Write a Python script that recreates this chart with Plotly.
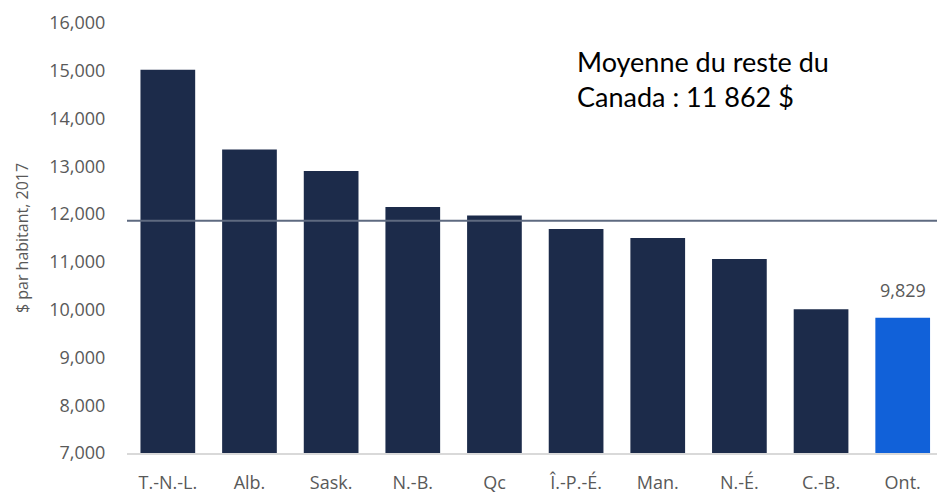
import plotly.graph_objects as go

provinces = ["T.-N.-L.", "Alb.", "Sask.", "N.-B.", "Qc", "Î.-P.-É.", "Man.", "N.-É.", "C.-B.", "Ont."]
spending = [15020, 13350, 12900, 12150, 11970, 11690, 11500, 11060, 10010, 9829]
rest_of_canada_avg = 11862
y_ticks = [7000, 8000, 9000, 10000, 11000, 12000, 13000, 14000, 15000, 16000]

colors = ["#1C2B4A"] * (len(provinces) - 1) + ["#1161D9"]

fig = go.Figure()
fig.add_trace(go.Bar(
    x=provinces, y=spending, marker=dict(color=colors, line=dict(width=0)),
    hoverinfo="x+y",
))

fig.add_annotation(x=provinces[-1], y=spending[-1], xref="x", yref="y",
                   text=f"{spending[-1]:,}", showarrow=False, yanchor="bottom", yshift=14,
                   font=dict(family="Open Sans", size=18, color="#595959"))

fig.add_shape(type="line", xref="paper", x0=0, x1=1, yref="y",
              y0=rest_of_canada_avg, y1=rest_of_canada_avg,
              line=dict(color="#5E6A80", width=2), layer="above")

fig.add_annotation(xref="paper", yref="y", x=0.553, y=15580, xanchor="left", yanchor="top",
                   text="Moyenne du reste du<br>Canada : 11 862 $", showarrow=False, align="left",
                   font=dict(family="Lato", size=27, color="#000000"))

fig.update_layout(
    width=937, height=496,
    margin=dict(l=127, r=0, t=23, b=43),
    plot_bgcolor="white", paper_bgcolor="white",
    bargap=0.33, showlegend=False,
    font=dict(family="Open Sans", color="#595959"),
)
fig.update_xaxes(range=[-0.5, 9.42], showline=True, linecolor="#D9D9D9", linewidth=1.5,
                 ticks="outside", ticklen=13, tickcolor="rgba(0,0,0,0)", automargin=False,
                 tickfont=dict(size=18, color="#595959"))
fig.update_yaxes(range=[7000, 16000], tickvals=y_ticks, tickformat=",",
                 showgrid=False, zeroline=False, automargin=False,
                 ticks="outside", ticklen=17, tickcolor="rgba(0,0,0,0)",
                 tickfont=dict(size=18, color="#595959"),
                 title=dict(text="$ par habitant, 2017", font=dict(size=16, color="#595959"), standoff=16))

fig.write_html("out.html", config={"displayModeBar": False},
               post_script="document.body.style.margin='0';document.body.style.overflow='hidden';")
